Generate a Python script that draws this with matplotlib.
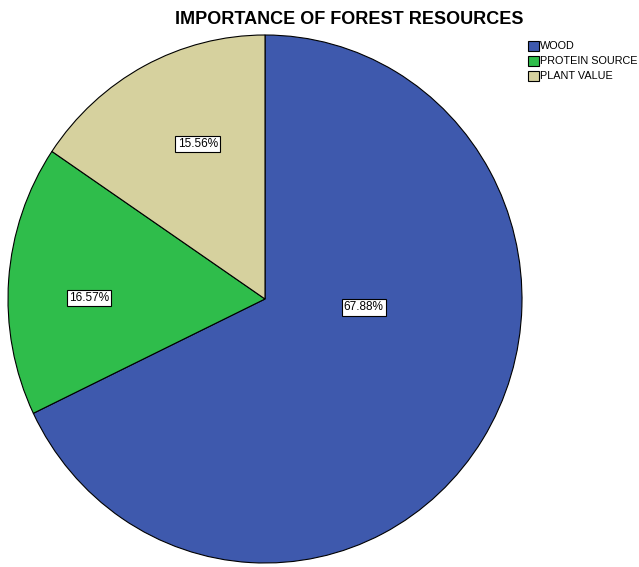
import matplotlib.pyplot as plt

plt.rcParams['font.family'] = ['Liberation Sans', 'DejaVu Sans']

categories = ['WOOD', 'PROTEIN SOURCE', 'PLANT VALUE']
percents = [67.88, 16.57, 15.56]
colors = ['#3e59ad', '#2fbd4b', '#d6d19e']
# where each percentage box sits, in axes fractions
label_pos = [(0.692, 0.484), (0.157, 0.502), (0.369, 0.793)]

fig = plt.figure(figsize=(6.39, 5.67), dpi=100)
ax = fig.add_axes([8 / 639, 4 / 567, 514 / 639, 528 / 567])

wedges, _ = ax.pie(percents, colors=colors, startangle=90, counterclock=False,
                   wedgeprops=dict(edgecolor='black', linewidth=0.8))
ax.set_aspect('auto')
ax.set_xlim(-1.0, 1.0)
ax.set_ylim(-1.0, 1.0)

for p, (x, y) in zip(percents, label_pos):
    ax.text(x, y, f'{p:.2f}%', transform=ax.transAxes, ha='center', va='center',
            fontsize=8.5,
            bbox=dict(boxstyle='square,pad=0.18', fc='white', ec='black', lw=0.8))

fig.text(349 / 639, 1 - 19 / 567, 'IMPORTANCE OF FOREST RESOURCES',
         ha='center', va='center', fontsize=13, fontweight='bold')

fig.legend(wedges, categories, loc='upper left', bbox_to_anchor=(520 / 639, 1 - 33 / 567),
           frameon=False, fontsize=7.8, handlelength=1.1, handleheight=1.1,
           handletextpad=0.05, labelspacing=0.38, borderpad=0.2)

fig.savefig('out.png', dpi=100)
